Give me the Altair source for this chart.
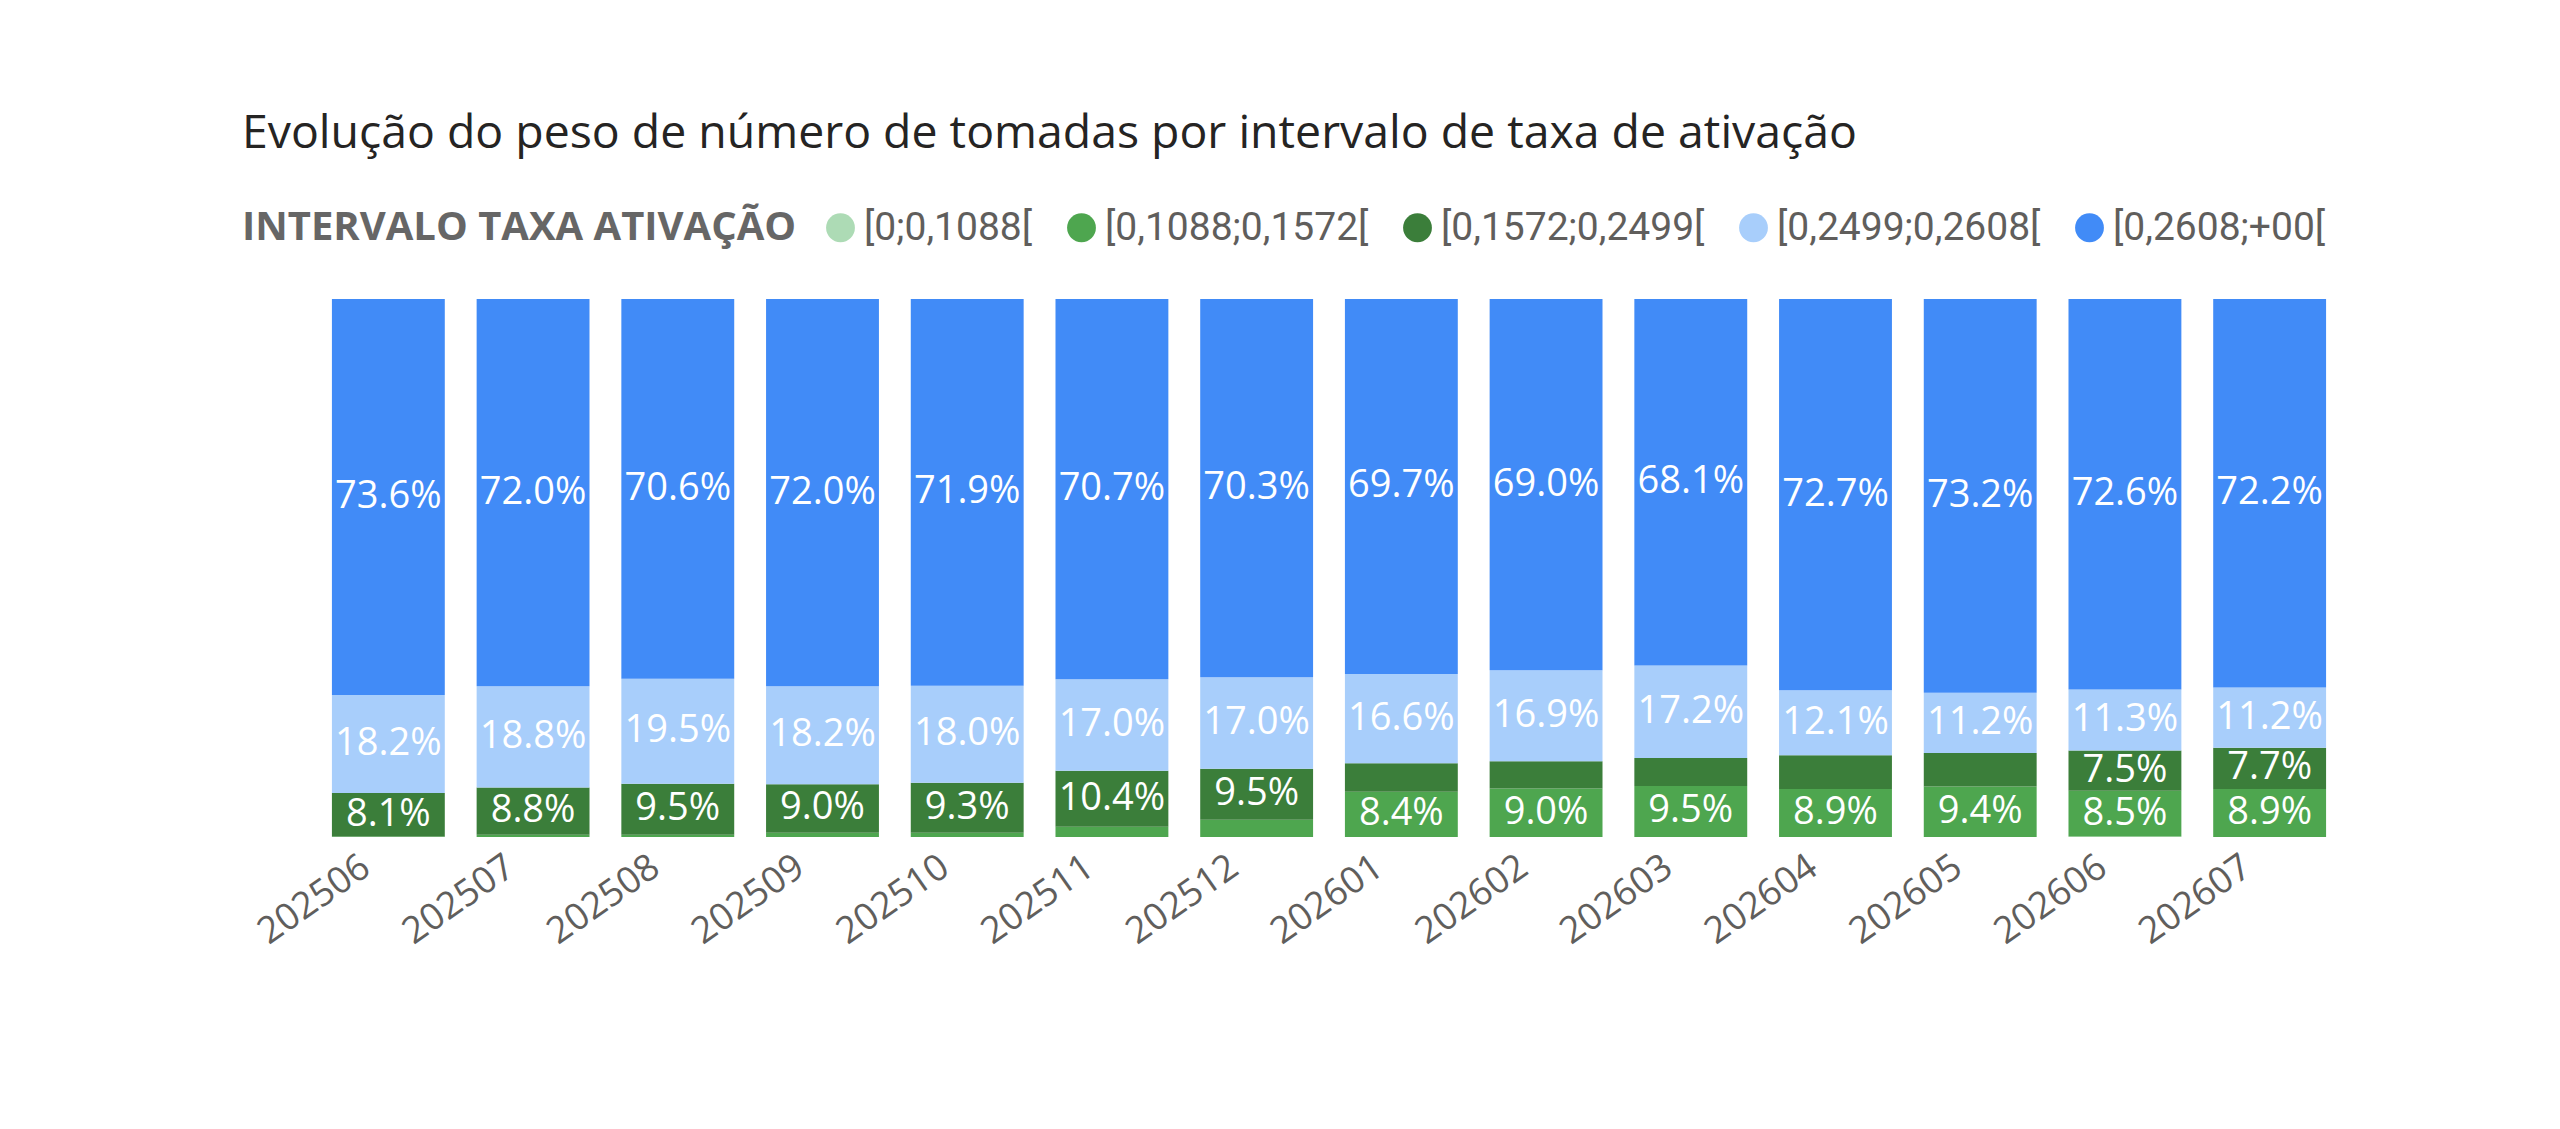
import altair as alt
import pandas as pd

titulo = "Evolução do peso de número de tomadas por intervalo de taxa de ativação"
meses = ["202506", "202507", "202508", "202509", "202510", "202511", "202512",
         "202601", "202602", "202603", "202604", "202605", "202606", "202607"]
intervalos = ["[0;0,1088[", "[0,1088;0,1572[", "[0,1572;0,2499[", "[0,2499;0,2608[", "[0,2608;+00["]
cores = ["#ADDBB5", "#4EA64F", "#3B7E3A", "#A8CEFB", "#418BF7"]

v_0_1088 = [0.0, 0.0, 0.0, 0.0, 0.0, 0.0, 0.0, 0.0, 0.0, 0.0, 0.0, 0.0, 0.1, 0.0]
v_1088_1572 = [0.1, 0.4, 0.4, 0.8, 0.8, 1.9, 3.2, 8.4, 9.0, 9.5, 8.9, 9.4, 8.5, 8.9]
v_1572_2499 = [8.1, 8.8, 9.5, 9.0, 9.3, 10.4, 9.5, 5.3, 5.1, 5.2, 6.3, 6.2, 7.5, 7.7]
v_2499_2608 = [18.2, 18.8, 19.5, 18.2, 18.0, 17.0, 17.0, 16.6, 16.9, 17.2, 12.1, 11.2, 11.3, 11.2]
v_2608_inf = [73.6, 72.0, 70.6, 72.0, 71.9, 70.7, 70.3, 69.7, 69.0, 68.1, 72.7, 73.2, 72.6, 72.2]

series = [v_0_1088, v_1088_1572, v_1572_2499, v_2499_2608, v_2608_inf]
rows = []
for k, (nome, vals) in enumerate(zip(intervalos, series)):
    for m, v in zip(meses, vals):
        rows.append({"mes": m, "intervalo": nome, "ord": k, "v": v})
df = pd.DataFrame(rows)

base = alt.Chart(df).transform_stack(
    stack="v", groupby=["mes"], sort=[alt.SortField("ord", order="ascending")],
    as_=["y0", "y1"], offset="normalize"
)

x_enc = alt.X(
    "mes:N", sort=meses,
    scale=alt.Scale(paddingInner=0.22, paddingOuter=0.11),
    axis=alt.Axis(title=None, labelAngle=-35, labelAlign="right", labelBaseline="middle",
                  labelFont="Open Sans", labelFontSize=37, labelColor="#605E5C",
                  labelPadding=26, labelOffset=-22, domain=False, ticks=False, grid=False),
)

bars = base.mark_bar().encode(
    x=x_enc,
    y=alt.Y("y0:Q", scale=alt.Scale(domain=[0, 1]), axis=None),
    y2="y1:Q",
    color=alt.Color(
        "intervalo:N",
        scale=alt.Scale(domain=intervalos, range=cores),
        legend=alt.Legend(
            orient="none", legendX=-74, legendY=-91, direction="horizontal",
            title="INTERVALO TAXA ATIVAÇÃO", titleOrient="left",
            titleFont="Open Sans", titleFontSize=40, titleFontWeight="bold",
            titleColor="#666666", titlePadding=24, titleLimit=1000,
            titleBaseline="middle", titleAnchor="middle",
            labelFont="Roboto", labelFontSize=39, labelColor="#605E5C", labelLimit=500,
            labelOffset=4, columnPadding=29, symbolType="circle", symbolSize=830,
            symbolStrokeWidth=0,
        ),
    ),
)

labels = base.transform_filter("datum.v >= 7").transform_calculate(
    ym="(datum.y0 + datum.y1) / 2",
    lbl="format(datum.v, '.1f') + '%'",
).mark_text(color="white", font="Open Sans", fontSize=38, baseline="middle").encode(
    x=alt.X("mes:N", sort=meses),
    y=alt.Y("ym:Q", scale=alt.Scale(domain=[0, 1])),
    text="lbl:N",
)

title_mark = alt.Chart(pd.DataFrame({"t": [titulo]})).mark_text(
    align="left", baseline="alphabetic", font="Open Sans", fontSize=46.4, color="#252423"
).encode(x=alt.value(-74), y=alt.value(-151), text="t:N")

chart = alt.layer(bars, labels, title_mark).properties(
    width=2026, height=538,
    padding={"left": 308, "top": 291, "right": 210, "bottom": 250},
    autosize=alt.AutoSizeParams(type="none"),
    background="white",
).configure_view(stroke=None)

chart.save("out.html", embed_options={"renderer": "svg", "actions": False})
